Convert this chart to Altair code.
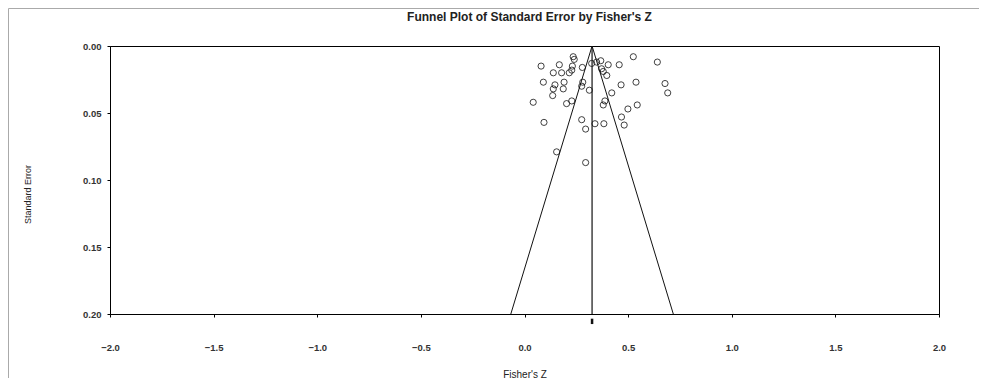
import altair as alt
import pandas as pd

# Studies: Fisher's Z and standard error
fisher_z = [0.235, 0.240, 0.525, 0.641, 0.080, 0.168, 0.231, 0.279, 0.324, 0.348,
            0.368, 0.404, 0.457, 0.139, 0.179, 0.228, 0.216, 0.372, 0.380, 0.397,
            0.091, 0.147, 0.191, 0.281, 0.139, 0.187, 0.136, 0.276, 0.313, 0.466,
            0.538, 0.678, 0.691, 0.421, 0.203, 0.228, 0.388, 0.380, 0.499, 0.544,
            0.468, 0.276, 0.042, 0.094, 0.340, 0.383, 0.481, 0.295, 0.155, 0.295]
std_err = [0.008, 0.010, 0.008, 0.012, 0.015, 0.014, 0.015, 0.016, 0.013, 0.012,
           0.011, 0.014, 0.014, 0.020, 0.020, 0.018, 0.020, 0.017, 0.019, 0.022,
           0.027, 0.029, 0.027, 0.027, 0.032, 0.032, 0.037, 0.030, 0.033, 0.029,
           0.027, 0.028, 0.035, 0.035, 0.043, 0.041, 0.041, 0.044, 0.047, 0.044,
           0.053, 0.055, 0.042, 0.057, 0.058, 0.058, 0.059, 0.062, 0.079, 0.087]

# Funnel (95% limits) and combined effect
funnel_x = [-0.066, 0.326, 0.718]
funnel_se = [0.2, 0.0, 0.2]
combined_z = 0.326

x_ticks = [-2.0, -1.5, -1.0, -0.5, 0.0, 0.5, 1.0, 1.5, 2.0]
y_ticks = [0.00, 0.05, 0.10, 0.15, 0.20]

W, H = 829, 268
FONT = "Liberation Sans"

points = pd.DataFrame({"z": fisher_z, "se": std_err})
funnel = pd.DataFrame({"z": funnel_x, "se": funnel_se, "o": [0, 1, 2]})
center = pd.DataFrame({"z": [combined_z], "se": [0.0], "se1": [0.2]})
marker = pd.DataFrame({"z": [combined_z], "se": [0.2035], "se1": [0.2075]})
one = pd.DataFrame({"k": [0]})

xs = alt.Scale(domain=[-2, 2], nice=False, zero=False)
ys = alt.Scale(domain=[0, 0.2], reverse=True, nice=False, zero=False)

x_axis = alt.Axis(values=x_ticks, format=".1f", title="Fisher's Z", grid=False,
                  tickSize=3, labelPadding=25, labelFont=FONT, labelFontSize=9.5,
                  labelFontWeight="bold", labelColor="#333", titleFont=FONT,
                  titleFontSize=10, titleFontWeight="normal", titleColor="#222",
                  titleY=60, titleBaseline="middle", domainColor="#000",
                  tickColor="#000", labelFlush=False)
y_axis = alt.Axis(values=y_ticks, format=".2f", title="Standard Error", grid=False,
                  tickSize=3, labelPadding=6, labelFont=FONT, labelFontSize=9.5,
                  labelFontWeight="bold", labelColor="#333", titleFont=FONT,
                  titleFontSize=9, titleFontWeight="normal", titleColor="#222",
                  titleX=-83, titleY=148, titleAngle=-90, titleAlign="center",
                  titleBaseline="middle", domainColor="#000", tickColor="#000",
                  labelFlush=False)

X = alt.X("z:Q", scale=xs, axis=x_axis)
Y = alt.Y("se:Q", scale=ys, axis=y_axis)

pts = alt.Chart(points).mark_point(shape="circle", filled=False, size=38,
                                   stroke="#111", strokeWidth=0.8, opacity=1).encode(x=X, y=Y)

fun = alt.Chart(funnel).mark_line(color="#111", strokeWidth=1).encode(
    x=X, y=Y, order="o:Q")

ctr = alt.Chart(center).mark_rule(color="#111", strokeWidth=1.2).encode(
    x=X, y=Y, y2="se1:Q")

mk = alt.Chart(marker).mark_rule(color="#111", strokeWidth=2.5).encode(
    x=X, y=Y, y2="se1:Q")

border_left = alt.Chart(one).mark_rule(color="#aaa", strokeWidth=1).encode(
    x=alt.value(-101.5), y=alt.value(-37.5), y2=alt.value(H + 64))
border_top = alt.Chart(one).mark_rule(color="#aaa", strokeWidth=1).encode(
    x=alt.value(-101.5), x2=alt.value(W + 40), y=alt.value(-37.5))

chart = alt.layer(pts, fun, ctr, mk, border_left, border_top).properties(
    width=W, height=H,
    title=alt.TitleParams("Funnel Plot of Standard Error by Fisher's Z",
                          font=FONT, fontSize=12, fontWeight="bold",
                          color="#222", anchor="middle", offset=-16, dx=5),
    autosize=alt.AutoSizeParams(type="none"),
    padding={"left": 102, "top": 38, "right": 40, "bottom": 64},
).configure(background="white").configure_view(stroke="#000", strokeWidth=1)

chart.save("out.html", embed_options={"renderer": "svg", "actions": False})
